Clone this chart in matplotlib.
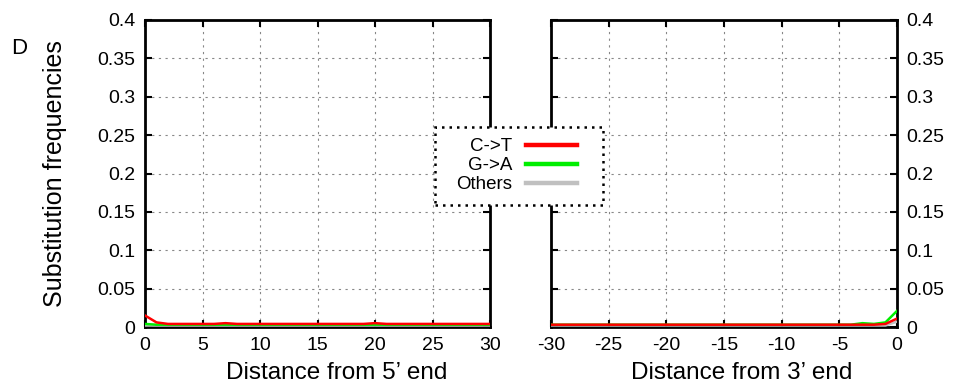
import matplotlib.pyplot as plt
from matplotlib.patches import Rectangle

# substitution frequencies by position from the 5' end (0..30)
pos5 = list(range(0, 31))
ct5 = [0.015, 0.006, 0.004, 0.004, 0.004, 0.004, 0.004, 0.005, 0.004, 0.004, 0.004,
       0.004, 0.004, 0.004, 0.004, 0.004, 0.004, 0.004, 0.004, 0.004, 0.005,
       0.004, 0.004, 0.004, 0.004, 0.004, 0.004, 0.004, 0.004, 0.004, 0.004]
ga5 = [0.004, 0.003, 0.003, 0.003, 0.003, 0.003, 0.003, 0.003, 0.003, 0.003, 0.003,
       0.003, 0.003, 0.003, 0.003, 0.003, 0.003, 0.003, 0.003, 0.003, 0.003,
       0.003, 0.003, 0.003, 0.003, 0.003, 0.003, 0.003, 0.003, 0.003, 0.003]
ot5 = [0.002] * 31

# substitution frequencies by position from the 3' end (-30..0)
pos3 = list(range(-30, 1))
ct3 = [0.003, 0.003, 0.003, 0.003, 0.003, 0.003, 0.003, 0.003, 0.003, 0.003, 0.003,
       0.003, 0.003, 0.003, 0.003, 0.003, 0.003, 0.003, 0.003, 0.003, 0.003,
       0.003, 0.003, 0.003, 0.003, 0.003, 0.003, 0.003, 0.003, 0.004, 0.011]
ga3 = [0.003, 0.003, 0.003, 0.003, 0.003, 0.003, 0.003, 0.003, 0.003, 0.003, 0.003,
       0.003, 0.003, 0.003, 0.003, 0.003, 0.003, 0.003, 0.003, 0.003, 0.003,
       0.003, 0.003, 0.003, 0.003, 0.003, 0.003, 0.005, 0.004, 0.006, 0.021]
ot3 = [0.002] * 30 + [0.007]

yticks = [0, 0.05, 0.1, 0.15, 0.2, 0.25, 0.3, 0.35, 0.4]
ylabels = ['0', '0.05', '0.1', '0.15', '0.2', '0.25', '0.3', '0.35', '0.4']

plt.rcParams['font.family'] = ['Liberation Sans', 'DejaVu Sans']
plt.rcParams['axes.unicode_minus'] = False

W, H = 958, 388
fig = plt.figure(figsize=(W / 100, H / 100), dpi=100)
ax1 = fig.add_axes([145/W, 61/H, 345/W, 307/H])
ax2 = fig.add_axes([551/W, 61/H, 346/W, 307/H])

red, green, grey = '#ff0000', '#00ee00', '#c0c0c0'

for ax, x, ct, ga, ot in [(ax1, pos5, ct5, ga5, ot5), (ax2, pos3, ct3, ga3, ot3)]:
    ax.plot(x, ot, color=grey, lw=1.8, label='Others', zorder=3)
    ax.plot(x, ga, color=green, lw=1.8, label='G->A', zorder=4)
    ax.plot(x, ct, color=red, lw=1.8, label='C->T', zorder=5)
    ax.set_ylim(0, 0.4)
    ax.set_yticks(yticks)
    ax.set_yticklabels(ylabels)
    ax.grid(True, color='#888888', linestyle=(0, (2, 4)), linewidth=0.8)
    ax.tick_params(direction='in', length=5, width=1.5, top=True, right=True,
                   labelsize=14, pad=7)
    for s in ax.spines.values():
        s.set_linewidth(2)

ax1.set_xlim(0, 30)
ax1.set_xticks(range(0, 31, 5))
ax1.set_xlabel("Distance from 5’ end", fontsize=17.5)
ax1.xaxis.set_label_coords(0.555, -0.115)
ax1.set_ylabel('Substitution frequencies', fontsize=18)
ax1.yaxis.set_label_coords(-0.225, 0.5)

ax2.set_xlim(-30, 0)
ax2.set_xticks(range(-30, 1, 5))
ax2.set_xlabel("Distance from 3’ end", fontsize=17.5)
ax2.xaxis.set_label_coords(0.55, -0.115)
ax2.yaxis.tick_right()
ax2.tick_params(left=True, right=True, labelleft=False, labelright=True)

fig.text(11/W, 1 - 49/H, 'D', fontsize=16, va='center')

# dotted box around the shared legend
box = Rectangle((435/W, 1 - 205/H), 168/W, 78/H, transform=fig.transFigure,
                fill=True, facecolor='white', edgecolor='black',
                linewidth=1.8, linestyle=(0, (1, 2)), zorder=10)
fig.patches.append(box)

h, l = ax1.get_legend_handles_labels()
order = [2, 1, 0]
leg = fig.legend([h[i] for i in order], [l[i] for i in order],
                 loc='upper left', bbox_to_anchor=(456/W, 1 - 138/H),
                 markerfirst=False, fontsize=13.5, frameon=False,
                 handlelength=2.7, handletextpad=0.75, borderpad=0,
                 labelspacing=0.1, borderaxespad=0)
leg.set_zorder(11)
for t in leg.get_texts():
    t.set_ha('right')
for line in leg.get_lines():
    line.set_linewidth(3.2)

fig.savefig('out.png', dpi=100)
